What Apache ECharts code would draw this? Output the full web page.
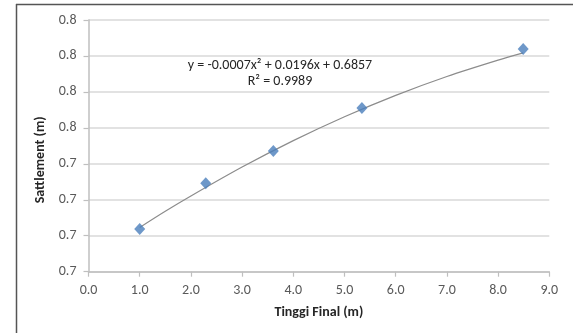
<!DOCTYPE html>
<html>
<head>
<meta charset="utf-8">
<script src="https://cdn.jsdelivr.net/npm/echarts@6/dist/echarts.min.js"></script>
<style>
html,body{margin:0;padding:0;background:#fff;}
#chart{width:573px;height:333px;}
</style>
</head>
<body>
<div id="chart"></div>
<script>
// Measured points (Tinggi Final, Settlement)
var tinggiFinal = [1.0, 2.29, 3.61, 5.34, 8.49];
var settlement = [0.7038, 0.7292, 0.7471, 0.7710, 0.8039];
// Polynomial trend line
var trendX = [1.0, 1.5, 2.0, 3.0, 4.0, 5.0, 6.0, 7.0, 8.0, 8.49];
var trendY = [0.7046, 0.7136, 0.7221, 0.7382, 0.7529, 0.7662, 0.7781, 0.7886, 0.7977, 0.8017];
var yTickLabels = ['0.7','0.7','0.7','0.7','0.8','0.8','0.8','0.8'];
var xTickLabels = ['0.0','1.0','2.0','3.0','4.0','5.0','6.0','7.0','8.0','9.0'];
var equationText = ['y = -0.0007x\u00B2 + 0.0196x + 0.6857', 'R\u00B2 = 0.9989'];

var FONT = 'Carlito, Calibri, "Liberation Sans", sans-serif';
var chart = echarts.init(document.getElementById('chart'), null, {renderer:'canvas'});
var pts = tinggiFinal.map(function(x,i){return [x, settlement[i]];});
var trend = trendX.map(function(x,i){return [x, trendY[i]];});

chart.setOption({
  animation:false,
  backgroundColor:'#ffffff',
  grid:{left:88.5, right:23.7, top:20, bottom:61.3, containLabel:false},
  xAxis:{
    type:'value', min:0, max:9, interval:1,
    name:'Tinggi Final (m)', nameLocation:'middle', nameGap:34,
    nameTextStyle:{fontFamily:FONT, fontSize:14, fontWeight:'bold', color:'#262626'},
    axisLine:{show:true, lineStyle:{color:'#bfbfbf', width:1.5}},
    axisTick:{show:true, length:5, lineStyle:{color:'#bfbfbf', width:1.2}},
    axisLabel:{fontFamily:FONT, fontSize:14, color:'#595959', margin:12,
      formatter:function(v){return xTickLabels[Math.round(v)];}},
    splitLine:{show:false}
  },
  yAxis:{
    type:'value', min:0.68, max:0.82, interval:0.02,
    name:'Sattlement (m)', nameLocation:'middle', nameGap:32, nameRotate:90,
    nameTextStyle:{fontFamily:FONT, fontSize:14, fontWeight:'bold', color:'#262626', padding:[0,0,0,-28]},
    axisLine:{show:true, lineStyle:{color:'#bfbfbf', width:1.5}},
    axisTick:{show:true, length:5, lineStyle:{color:'#bfbfbf', width:1.2}},
    axisLabel:{fontFamily:FONT, fontSize:14, color:'#595959', margin:12,
      formatter:function(v){return yTickLabels[Math.round((v-0.68)/0.02)];}},
    splitLine:{show:true, lineStyle:{color:'#d9d9d9', width:1.5}}
  },
  series:[
    {type:'line', data:trend, smooth:0.3, showSymbol:false, symbol:'none',
     lineStyle:{color:'#8c8c8c', width:1.2}, z:2, silent:true},
    {type:'scatter', data:pts, symbol:'diamond', symbolSize:[11,12],
     itemStyle:{color:'#4a7ebb'}, z:3}
  ],
  graphic:[
    {type:'line', shape:{x1:16.5, y1:4, x2:16.5, y2:333}, style:{stroke:'#555555', lineWidth:1.5}},
    {type:'line', shape:{x1:16, y1:4.5, x2:573, y2:4.5}, style:{stroke:'#555555', lineWidth:1.5}},
    {type:'text', x:280, y:65, style:{text:equationText[0], fontFamily:FONT, fontSize:14, fill:'#262626', textAlign:'center', textVerticalAlign:'middle'}},
    {type:'text', x:280, y:81.5, style:{text:equationText[1], fontFamily:FONT, fontSize:14, fill:'#262626', textAlign:'center', textVerticalAlign:'middle'}}
  ]
});
</script>
</body>
</html>
